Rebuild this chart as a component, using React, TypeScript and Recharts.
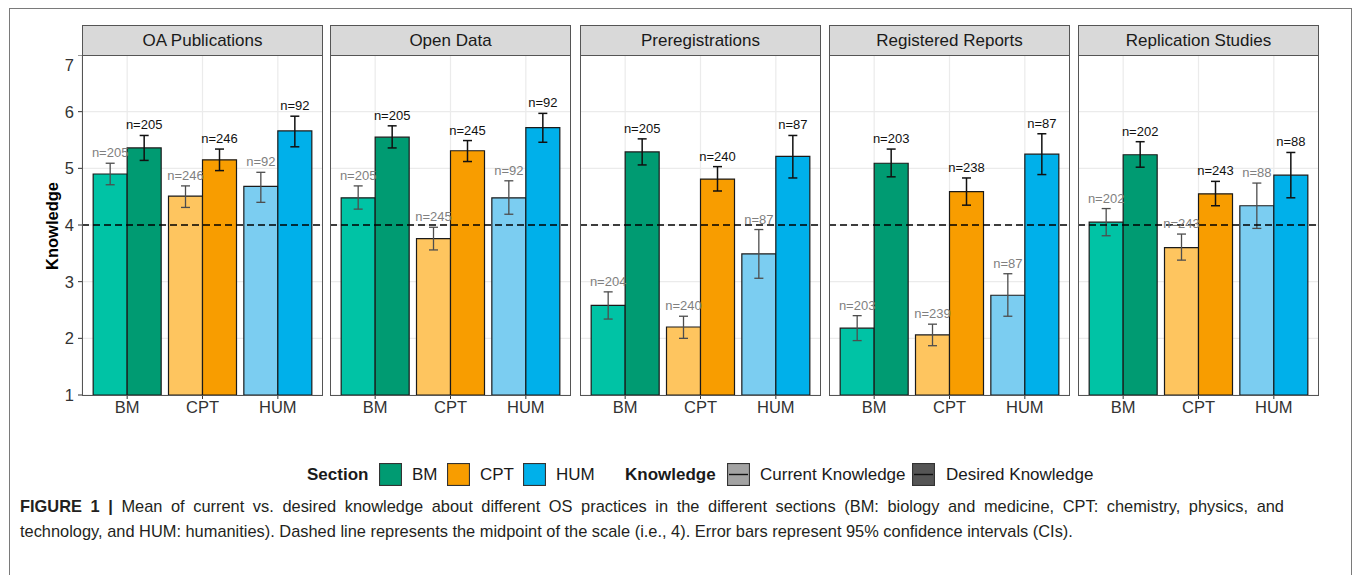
import React from 'react'
import { BarChart, Bar, XAxis, YAxis, CartesianGrid, ErrorBar, LabelList, ReferenceLine, Cell } from 'recharts'

const practices = ['OA Publications', 'Open Data', 'Preregistrations', 'Registered Reports', 'Replication Studies']
const sections = ['BM', 'CPT', 'HUM']
const yTicks = [1, 2, 3, 4, 5, 6, 7]

// one row per practice, columns BM / CPT / HUM
const currentMean = [
  [4.9, 4.51, 4.68],
  [4.48, 3.76, 4.48],
  [2.58, 2.2, 3.49],
  [2.18, 2.06, 2.76],
  [4.05, 3.6, 4.34],
]
const currentLow = [
  [4.71, 4.31, 4.4],
  [4.28, 3.56, 4.19],
  [2.34, 2.0, 3.06],
  [1.96, 1.87, 2.39],
  [3.81, 3.38, 3.94],
]
const currentHigh = [
  [5.09, 4.69, 4.93],
  [4.69, 3.96, 4.78],
  [2.82, 2.39, 3.92],
  [2.4, 2.25, 3.14],
  [4.29, 3.84, 4.74],
]
const desiredMean = [
  [5.36, 5.15, 5.66],
  [5.55, 5.31, 5.72],
  [5.29, 4.81, 5.21],
  [5.09, 4.59, 5.25],
  [5.24, 4.55, 4.88],
]
const desiredLow = [
  [5.14, 4.96, 5.38],
  [5.36, 5.12, 5.46],
  [5.06, 4.6, 4.83],
  [4.85, 4.35, 4.89],
  [5.02, 4.34, 4.48],
]
const desiredHigh = [
  [5.58, 5.34, 5.92],
  [5.75, 5.49, 5.97],
  [5.52, 5.03, 5.58],
  [5.34, 4.83, 5.61],
  [5.47, 4.77, 5.28],
]
const currentN = [
  [205, 246, 92],
  [205, 245, 92],
  [204, 240, 87],
  [203, 239, 87],
  [202, 243, 88],
]
const desiredN = [
  [205, 246, 92],
  [205, 245, 92],
  [205, 240, 87],
  [203, 238, 87],
  [202, 243, 88],
]

const curColors = ['#00C3A5', '#FEC55F', '#7BCDF1']
const desColors = ['#009B72', '#F89D00', '#00B0EA']

const FONT = '"Liberation Sans", Arial, Helvetica, sans-serif'
const panelLefts = [82, 330, 580, 829, 1078]
const PW = 241
const PH = 340
const PTOP = 55

function nLabel(fill: string, means: number[], highs: number[]) {
  return (props: any) => {
    const vb = props.viewBox || {}
    const x = props.x ?? vb.x
    const y = props.y ?? vb.y
    const width = props.width ?? vb.width
    const height = props.height ?? vb.height
    const i = props.index
    const mean = means[i]
    const unit = height / (mean - 1)
    const top = y - (highs[i] - mean) * unit
    return (
      <text x={x + width / 2} y={top - 6} textAnchor="middle" fill={fill} fontSize={13} fontFamily={FONT}>
        n={props.value}
      </text>
    )
  }
}

function Panel({ p }: { p: number }) {
  const rows = sections.map((s, i) => ({
    section: s,
    cur: currentMean[p][i],
    curErr: [currentMean[p][i] - currentLow[p][i], currentHigh[p][i] - currentMean[p][i]],
    des: desiredMean[p][i],
    desErr: [desiredMean[p][i] - desiredLow[p][i], desiredHigh[p][i] - desiredMean[p][i]],
    curN: currentN[p][i],
    desN: desiredN[p][i],
  }))
  const showY = p === 0
  const yW = showY ? 50 : 0
  const left = panelLefts[p]
  return (
    <>
      <div
        style={{
          position: 'absolute', left, top: 25, width: PW, height: 31, boxSizing: 'border-box',
          background: '#D9D9D9', border: '1px solid #555', textAlign: 'center', lineHeight: '29px',
          fontSize: 17, color: '#1A1A1A', fontFamily: FONT,
        }}
      >
        {practices[p]}
      </div>
      <div style={{ position: 'absolute', left: left - yW, top: PTOP }}>
        <BarChart
          width={yW + PW}
          height={PH + 30}
          data={rows}
          margin={{ top: 0, right: 0, bottom: 0, left: 0 }}
          barCategoryGap={3.67}
          barGap={0}
        >
          <CartesianGrid stroke="#EBEBEB" strokeWidth={1.2} horizontalValues={yTicks} />
          <XAxis
            dataKey="section"
            axisLine={false}
            tickSize={4}
            tickMargin={2}
            interval={0}
            padding={{ left: 7.5, right: 7.5 }}
            tickLine={{ stroke: '#333' }}
            tick={{ fill: '#333', fontSize: 16.5, fontFamily: FONT }}
            height={30}
          />
          <YAxis
            type="number"
            domain={[1, 7]}
            ticks={yTicks}
            allowDataOverflow
            hide={!showY}
            width={yW}
            axisLine={false}
            tickSize={4}
            tickMargin={4}
            tickLine={{ stroke: '#333' }}
            tick={{ fill: '#333', fontSize: 16.5, fontFamily: FONT }}
          />
          <Bar dataKey="cur" isAnimationActive={false} stroke="#1a1a1a" strokeWidth={1.2}>
            {rows.map((r, i) => (
              <Cell key={r.section} fill={curColors[i]} />
            ))}
            <ErrorBar dataKey="curErr" width={4.5} stroke="#4d4d4d" strokeWidth={1.3} direction="y" isAnimationActive={false} />
            <LabelList dataKey="curN" content={nLabel('#7f7f7f', currentMean[p], currentHigh[p])} />
          </Bar>
          <Bar dataKey="des" isAnimationActive={false} stroke="#1a1a1a" strokeWidth={1.2}>
            {rows.map((r, i) => (
              <Cell key={r.section} fill={desColors[i]} />
            ))}
            <ErrorBar dataKey="desErr" width={4.5} stroke="#111" strokeWidth={1.5} direction="y" isAnimationActive={false} />
            <LabelList dataKey="desN" content={nLabel('#111', desiredMean[p], desiredHigh[p])} />
          </Bar>
          <ReferenceLine y={4} stroke="#000" strokeDasharray="7 4" strokeWidth={1.3} />
        </BarChart>
      </div>
      <div
        style={{
          position: 'absolute', left, top: PTOP, width: PW, height: PH + 1, boxSizing: 'border-box',
          border: '1px solid #555', pointerEvents: 'none',
        }}
      />
    </>
  )
}

const txt = (left: number, text: string, bold = false) => (
  <div
    style={{
      position: 'absolute', left, top: 465, height: 20, lineHeight: '20px', fontSize: 17,
      fontWeight: bold ? 700 : 400, color: '#1A1A1A', fontFamily: FONT, whiteSpace: 'nowrap',
    }}
  >
    {text}
  </div>
)

const legendKey = (left: number, fill: string, line = false) => (
  <svg width={23} height={23} style={{ position: 'absolute', left, top: 463 }}>
    <rect x={0.5} y={0.5} width={22} height={22} fill={fill} stroke="#333" strokeWidth={1.2} />
    {line && <line x1={2} x2={21} y1={11.5} y2={11.5} stroke="#111" strokeWidth={1.4} />}
  </svg>
)

export default function App() {
  return (
    <div style={{ position: 'absolute', left: 0, top: 0, width: 1355, height: 575, overflow: 'hidden', background: '#fff' }}>
      <div style={{ position: 'absolute', left: 9, top: 8, width: 1343, height: 600, border: '1px solid #7a7a7a', boxSizing: 'border-box' }} />
      <div
        style={{
          position: 'absolute', left: 51.5 - 100, top: 226 - 10, width: 200, height: 20, lineHeight: '20px',
          textAlign: 'center', transform: 'rotate(-90deg)', fontSize: 16.5, fontWeight: 700, color: '#000', fontFamily: FONT,
        }}
      >
        Knowledge
      </div>
      {practices.map((_, p) => (
        <Panel key={p} p={p} />
      ))}
      {txt(307, 'Section', true)}
      {legendKey(379, desColors[0])}
      {txt(412, 'BM')}
      {legendKey(447, desColors[1])}
      {txt(480, 'CPT')}
      {legendKey(523, desColors[2])}
      {txt(556, 'HUM')}
      {txt(625, 'Knowledge', true)}
      {legendKey(727, '#A3A3A3', true)}
      {txt(760, 'Current Knowledge')}
      {legendKey(912, '#555555', true)}
      {txt(946, 'Desired Knowledge')}
      <div
        style={{
          position: 'absolute', left: 20, top: 493.5, width: 1264, fontSize: 16.4, lineHeight: '25px', color: '#231F20',
          fontFamily: FONT,
        }}
      >
        <div style={{ textAlign: 'justify', textAlignLast: 'justify', whiteSpace: 'normal' }}>
          <b>FIGURE 1 |</b> Mean of current vs. desired knowledge about different OS practices in the different sections (BM: biology and medicine, CPT: chemistry, physics, and
        </div>
        <div style={{ whiteSpace: 'nowrap' }}>
          technology, and HUM: humanities). Dashed line represents the midpoint of the scale (i.e., 4). Error bars represent 95% confidence intervals (CIs).
        </div>
      </div>
    </div>
  )
}
